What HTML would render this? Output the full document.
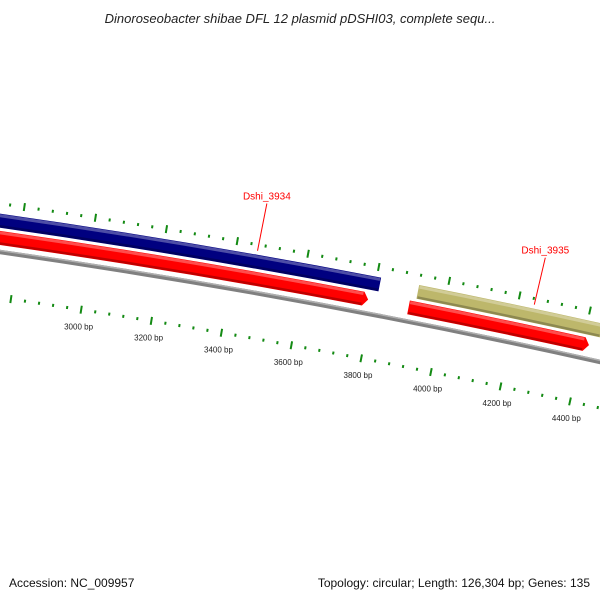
<!DOCTYPE html>
<html><head><meta charset="utf-8"><style>
html,body{margin:0;padding:0;background:#fff}
svg{display:block}
text{font-family:"Liberation Sans","DejaVu Sans",sans-serif}
</style></head><body>
<svg id="map" width="600" height="600" viewBox="0 0 600 600" xmlns="http://www.w3.org/2000/svg">
<defs>
<clipPath id="clip"><rect x="0" y="0" width="600" height="600"/></clipPath>
</defs>
<text x="300" y="23" text-anchor="middle" font-size="13" font-style="italic" fill="#222">Dinoroseobacter shibae DFL 12 plasmid pDSHI03, complete sequ...</text>
<g id="plot" clip-path="url(#clip)"></g>
<text x="9" y="587" font-size="12" fill="#111">Accession: NC_009957</text>
<text x="590" y="587" text-anchor="end" font-size="12" fill="#111">Topology: circular; Length: 126,304 bp; Genes: 135</text>
</svg>
<script>
const featNames = ["Dshi_3934", "Dshi_3934-cds", "Dshi_3935", "Dshi_3935-cds", "next-cds"];
const featStart = [1800, 1800, 3920, 3903, 4458];
const featEnd = [3812, 3788, 4443, 4418, 5200];
const featTrack = ["gene", "cds", "gene", "cds", "cds"];
const featColor = ["#000080", "#ff0000", "#bdb76b", "#ff0000", "#ff0000"];
const tickStartBp = 2600;
const tickEndBp = 4800;
const tickStep = 40;
const majorStep = 200;
const tickLabels = ["3000 bp","3200 bp","3400 bp","3600 bp","3800 bp","4000 bp","4200 bp","4400 bp"];
const tickLabelBp = [3000,3200,3400,3600,3800,4000,4200,4400];
const featLabels = ["Dshi_3934","Dshi_3935"];
const featLabelBp = [3460, 4245];

const CX=-1133, CY=8131, R=7960, TH0=0.15401, K=4.489e-5;
const NS="http://www.w3.org/2000/svg";
const plot=document.getElementById('plot');
function ang(bp){return TH0+(bp-3000)*K;}
function pt(bp,r){const t=ang(bp);return [CX+r*Math.sin(t),CY-r*Math.cos(t)];}
function mk(tag,attrs){const e=document.createElementNS(NS,tag);for(const k in attrs)e.setAttribute(k,attrs[k]);plot.appendChild(e);return e;}
function arcD(b1,b2,r){const a=pt(b1,r),b=pt(b2,r);return `M${a[0]},${a[1]} A${r},${r} 0 0 1 ${b[0]},${b[1]}`;}

// backbone
let bb=mk('path',{d:arcD(1500,5500,R),stroke:'#808080','stroke-width':4.5,fill:'none'});


let bb2=mk('path',{d:arcD(1500,5500,R+1.5),stroke:'#b0b0b0','stroke-width':1.5,fill:'none'});



// features
for(let i=0;i<featNames.length;i++){
  const isGene=featTrack[i]==='gene';
  const r1=isGene?R+24:R+7, r2=isGene?R+38:R+21;
  const s=featStart[i], e=featEnd[i];
  let d;
  if(isGene){
    const a=pt(s,r2),b=pt(e,r2),c=pt(e,r1),f=pt(s,r1);
    d=`M${a[0]},${a[1]} A${r2},${r2} 0 0 1 ${b[0]},${b[1]} L${c[0]},${c[1]} A${r1},${r1} 0 0 0 ${f[0]},${f[1]} Z`;
  } else {
    const hb=e-14, rm=(r1+r2)/2;
    const a=pt(s,r2),b=pt(hb,r2),tip=pt(e,rm),c=pt(hb,r1),f=pt(s,r1);
    d=`M${a[0]},${a[1]} A${r2},${r2} 0 0 1 ${b[0]},${b[1]} L${tip[0]},${tip[1]} L${c[0]},${c[1]} A${r1},${r1} 0 0 0 ${f[0]},${f[1]} Z`;
  }
  const p=mk('path',{d:d,fill:featColor[i]});
  
  
  const hl=mk('path',{d:arcD(s+2,isGene?e-2:e-16,r2-2),stroke:'#ffffff','stroke-opacity':0.3,'stroke-width':3,fill:'none'});
  
  
  const sh=mk('path',{d:arcD(s+2,isGene?e-2:e-16,r1+1.5),stroke:'#000000','stroke-opacity':0.25,'stroke-width':2.5,fill:'none'});
  
  
}

// ticks
for(let bp=tickStartBp;bp<=tickEndBp;bp+=tickStep){
  const major=(bp%majorStep===0);
  const len=major?8:3;
  for(const rc of [R+48,R-45]){
    const a=pt(bp,rc-len/2),b=pt(bp,rc+len/2);
    const l=mk('line',{x1:a[0],y1:a[1],x2:b[0],y2:b[1],stroke:'#138a13','stroke-width':2});
    
    
  }
}
for(let i=0;i<tickLabels.length;i++){
  const p=pt(tickLabelBp[i],R-62);
  const t=mk('text',{x:p[0],y:p[1]+3,'text-anchor':'middle','font-size':8,fill:'#222'});
  t.textContent=tickLabels[i];
  
  
}
// feature labels
for(let i=0;i<featLabels.length;i++){
  const a=pt(featLabelBp[i],R+42),b=pt(featLabelBp[i],R+90);
  const l=mk('line',{x1:a[0],y1:a[1],x2:b[0]+1,y2:b[1],stroke:'#ff0000','stroke-width':1});
  
  
  const t=mk('text',{x:b[0]+1,y:b[1]-4,'text-anchor':'middle','font-size':10,fill:'#ff0000'});
  t.textContent=featLabels[i];
  
  
}
</script>
</body></html>
